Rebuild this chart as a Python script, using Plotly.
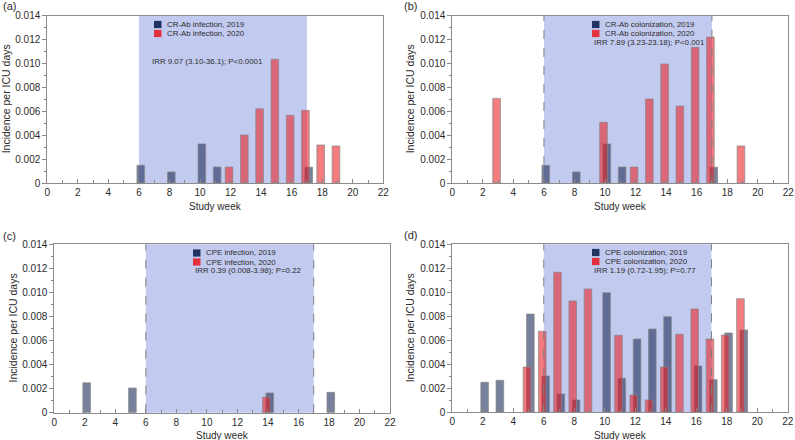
import plotly.graph_objects as go

# ---------------- data ----------------
# Panel (a) CR-Ab infection
a_weeks_2019 = [6, 8, 10, 11, 17]
a_vals_2019 = [0.00148, 0.00093, 0.00327, 0.00134, 0.00132]
a_weeks_2020 = [12, 13, 14, 15, 16, 17, 18, 19]
a_vals_2020 = [0.00134, 0.00402, 0.00621, 0.01035, 0.00566, 0.00608, 0.00318, 0.00310]

# Panel (b) CR-Ab colonization
b_weeks_2019 = [6, 8, 10, 11, 17]
b_vals_2019 = [0.00148, 0.00093, 0.00327, 0.00134, 0.00132]
b_weeks_2020 = [3, 10, 12, 13, 14, 15, 16, 17, 19]
b_vals_2020 = [0.00708, 0.00508, 0.00134, 0.00703, 0.00996, 0.00644, 0.01135, 0.01221, 0.00310]

# Panel (c) CPE infection
c_weeks_2019 = [2, 5, 14, 18]
c_vals_2019 = [0.00249, 0.00205, 0.00164, 0.00169]
c_weeks_2020 = [14]
c_vals_2020 = [0.00130]

# Panel (d) CPE colonization
d_weeks_2019 = [2, 3, 5, 6, 7, 8, 10, 11, 12, 13, 14, 16, 17, 18, 19]
d_vals_2019 = [0.00250, 0.00267, 0.00819, 0.00303, 0.00153, 0.00103, 0.00997, 0.00283,
               0.00611, 0.00694, 0.00797, 0.00386, 0.00272, 0.00661, 0.00686]
d_weeks_2020 = [5, 6, 7, 8, 9, 11, 12, 13, 14, 15, 16, 17, 18, 19]
d_vals_2020 = [0.00378, 0.00675, 0.01167, 0.00928, 0.01028, 0.00642, 0.00144, 0.00103,
               0.00378, 0.00650, 0.00861, 0.00611, 0.00644, 0.00947]

legend_2019 = ["CR-Ab infection, 2019", "CR-Ab colonization, 2019",
               "CPE infection, 2019", "CPE colonization, 2019"]
legend_2020 = ["CR-Ab infection, 2020", "CR-Ab colonization, 2020",
               "CPE infection, 2020", "CPE colonization, 2020"]
irr_texts = ["IRR 9.07 (3.10-36.1); P<0.0001", "IRR 7.89 (3.23-23.18); P<0.001",
             "IRR 0.39 (0.008-3.98); P=0.22", "IRR 1.19 (0.72-1.95); P=0.77"]
panel_labels = ["(a)", "(b)", "(c)", "(d)"]

period_start = 6
period_end = 17

y_ticks = [0, 0.002, 0.004, 0.006, 0.008, 0.010, 0.012, 0.014]
y_tick_labels = ["0", "0.002", "0.004", "0.006", "0.008", "0.010", "0.012", "0.014"]

# ---------------- layout helpers ----------------
W, H = 795, 440
def px(x):
    return x / W
def py(y):
    return 1 - y / H

# pixel boxes (left, right, top, bottom)
boxes = [(47.3, 383.3, 15.7, 183.0),
         (452.3, 788.3, 15.7, 183.0),
         (54.3, 390.0, 244.3, 412.7),
         (452.3, 787.7, 244.3, 412.3)]

FONT = "Liberation Sans, Arial, Helvetica, sans-serif"
TXT = "#2b2b2b"
BLUE = "rgba(30,45,90,0.6)"
RED = "rgba(235,30,35,0.58)"
EDGE = "rgba(135,135,135,0.7)"
SHADE = "#c3caf0"

fig = go.Figure()

panels = [(a_weeks_2019, a_vals_2019, a_weeks_2020, a_vals_2020),
          (b_weeks_2019, b_vals_2019, b_weeks_2020, b_vals_2020),
          (c_weeks_2019, c_vals_2019, c_weeks_2020, c_vals_2020),
          (d_weeks_2019, d_vals_2019, d_weeks_2020, d_vals_2020)]

bar_w = 0.5
for i, (w19, v19, w20, v20) in enumerate(panels):
    sfx = "" if i == 0 else str(i + 1)
    fig.add_trace(go.Bar(x=w19, y=v19, width=bar_w, offset=-0.13,
                         marker=dict(color=BLUE, line=dict(color=EDGE, width=1)),
                         xaxis="x" + sfx, yaxis="y" + sfx, showlegend=False))
    fig.add_trace(go.Bar(x=w20, y=v20, width=bar_w, offset=-0.35,
                         marker=dict(color=RED, line=dict(color=EDGE, width=1)),
                         xaxis="x" + sfx, yaxis="y" + sfx, showlegend=False))

layout = dict(width=W, height=H, margin=dict(l=0, r=0, t=0, b=0, autoexpand=False),
              template="none",
              paper_bgcolor="white", plot_bgcolor="white", barmode="overlay",
              font=dict(family=FONT, color=TXT, size=10), showlegend=False)

shapes = []
annotations = []
title_x = [6, 410, 12, 410]
for i, (l, r, t, b) in enumerate(boxes):
    sfx = "" if i == 0 else str(i + 1)
    xa = "xaxis" + sfx
    ya = "yaxis" + sfx
    layout[xa] = dict(domain=[px(l), px(r)], range=[0, 22], anchor="y" + sfx,
                      tick0=0, dtick=2, ticks="inside", ticklen=4, tickcolor="#888",
                      minor=dict(dtick=1, ticks="inside", ticklen=3, tickcolor="#888"),
                      showline=True, linecolor="#8c8c8c", linewidth=1, mirror=True,
                      showgrid=False, zeroline=False, fixedrange=True, automargin=False,
                      tickfont=dict(size=10, color=TXT), title=None)
    layout[ya] = dict(domain=[py(b), py(t)], range=[0, 0.014], anchor="x" + sfx,
                      tickvals=y_ticks, ticktext=y_tick_labels,
                      ticks="outside", ticklen=4, tickcolor="#888",
                      minor=dict(dtick=0.001, ticks="outside", ticklen=2, tickcolor="#888"),
                      showline=True, linecolor="#8c8c8c", linewidth=1, mirror=True,
                      showgrid=False, zeroline=False, fixedrange=True, automargin=False,
                      tickfont=dict(size=10, color=TXT), title=None)
    # y-axis title
    annotations.append(dict(xref="paper", yref="paper", x=px(title_x[i]), y=py((t + b) / 2),
                            text="Incidence per ICU days", textangle=-90, showarrow=False,
                            xanchor="center", yanchor="middle",
                            font=dict(size=10.5, color=TXT)))
    # x-axis title
    annotations.append(dict(xref="paper", yref="paper", x=px((l + r) / 2), y=py(b + 23),
                            text="Study week", showarrow=False,
                            xanchor="center", yanchor="middle",
                            font=dict(size=10, color=TXT)))
    # shaded period
    shapes.append(dict(type="rect", xref="x" + sfx, yref="y" + sfx + " domain",
                       x0=period_start, x1=period_end, y0=0, y1=1,
                       fillcolor=SHADE, line=dict(width=0), layer="below"))
    if i > 0:
        for xv in (period_start, period_end):
            shapes.append(dict(type="line", xref="x" + sfx, yref="y" + sfx + " domain",
                               x0=xv, x1=xv, y0=0, y1=1,
                               line=dict(color="#7f7f7f", width=1, dash="dash"),
                               layer="above"))

# legend keys and texts (pixel positions)
leg_pos = [(154, 24.5, 33.5, 150, 61),
           (592, 24.5, 33.5, 592, 42.7),
           (193, 253, 262, 193, 270.8),
           (592, 252.5, 261.5, 592, 270.5)]
for i, (lx, y1, y2, ix, iy) in enumerate(leg_pos):
    for yy, col, txt in ((y1, "#1f3462", legend_2019[i]), (y2, "#e3323d", legend_2020[i])):
        shapes.append(dict(type="rect", xref="paper", yref="paper",
                           x0=px(lx), x1=px(lx + 7.5), y0=py(yy + 3.6), y1=py(yy - 3.6),
                           fillcolor=col, line=dict(width=0), layer="above"))
        annotations.append(dict(xref="paper", yref="paper", x=px(lx + 11), y=py(yy),
                                text=txt, showarrow=False, xanchor="left", yanchor="middle",
                                font=dict(size=7.9, color=TXT)))
    annotations.append(dict(xref="paper", yref="paper", x=px(ix), y=py(iy),
                            text=irr_texts[i], showarrow=False, xanchor="left", yanchor="middle",
                            font=dict(size=7.9, color=TXT)))

label_pos = [(1, 6), (402, 6), (1, 236), (402, 235)]
for i, (lx, ly) in enumerate(label_pos):
    annotations.append(dict(xref="paper", yref="paper", x=px(lx), y=py(ly),
                            text=panel_labels[i], showarrow=False, xanchor="left", yanchor="middle",
                            font=dict(size=11, color=TXT)))

layout["shapes"] = shapes
layout["annotations"] = annotations
fig.update_layout(**layout)

fig.write_html("out.html", config={"displayModeBar": False},
               post_script="document.body.style.margin='0';document.body.style.overflow='hidden';")
